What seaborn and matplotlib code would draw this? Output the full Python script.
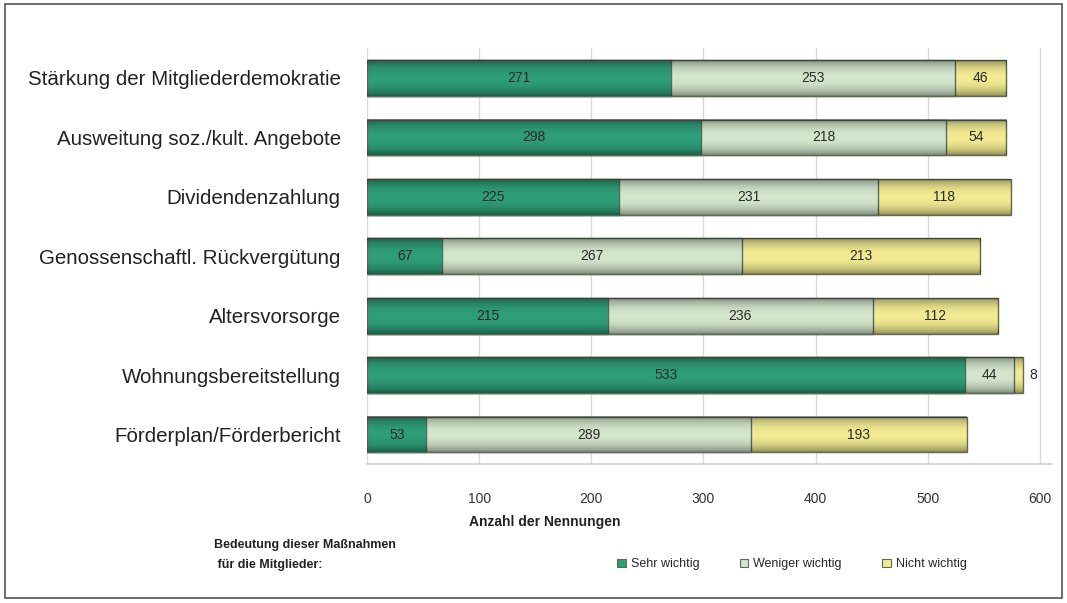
import matplotlib
matplotlib.use("Agg")
import matplotlib.pyplot as plt
import matplotlib.patches as mpatches
import numpy as np
import pandas as pd
import seaborn as sns

# Maßnahmen und Anzahl der Nennungen je Bedeutungsstufe
categories = [
    "Stärkung der Mitgliederdemokratie",
    "Ausweitung soz./kult. Angebote",
    "Dividendenzahlung",
    "Genossenschaftl. Rückvergütung",
    "Altersvorsorge",
    "Wohnungsbereitstellung",
    "Förderplan/Förderbericht",
]
sehr_wichtig = [271, 298, 225, 67, 215, 533, 53]
weniger_wichtig = [253, 218, 231, 267, 236, 44, 289]
nicht_wichtig = [46, 54, 118, 213, 112, 8, 193]

series_names = ["Sehr wichtig", "Weniger wichtig", "Nicht wichtig"]
x_ticks = [0, 100, 200, 300, 400, 500, 600]

colors = {
    "Sehr wichtig": "#2f9e78",
    "Weniger wichtig": "#d3e6cc",
    "Nicht wichtig": "#f1ea92",
}
edge = "#5d6b55"
bar_width = 0.6

sns.set_theme(style="white")
plt.rcParams["font.family"] = ["Liberation Sans", "DejaVu Sans"]

df = pd.DataFrame({
    "Maßnahme": categories,
    "Sehr wichtig": sehr_wichtig,
    "Weniger wichtig": weniger_wichtig,
    "Nicht wichtig": nicht_wichtig,
})
df["cum1"] = df["Sehr wichtig"]
df["cum2"] = df["cum1"] + df["Weniger wichtig"]
df["cum3"] = df["cum2"] + df["Nicht wichtig"]

fig = plt.figure(figsize=(10.67, 6.03), dpi=100)
ax = fig.add_axes([0.344, 0.23, 0.641, 0.69])

# stacked bars: draw cumulative totals from the back to the front
for col, name in [("cum3", "Nicht wichtig"), ("cum2", "Weniger wichtig"), ("cum1", "Sehr wichtig")]:
    sns.barplot(data=df, y="Maßnahme", x=col, orient="h", color=colors[name],
                width=bar_width, edgecolor=edge, linewidth=1.0, saturation=1, ax=ax, zorder=3)

# cylinder-like shading: darker towards the top and bottom edge of each bar
t = np.linspace(0, 1, 64)
alpha = 0.38 * np.abs(2 * t - 1) ** 2.2
shade = np.zeros((64, 2, 4))
shade[..., 3] = alpha[:, None]
for i, total in enumerate(df["cum3"]):
    ax.imshow(shade, extent=(0, total, i + bar_width / 2, i - bar_width / 2),
              aspect="auto", interpolation="bilinear", zorder=4)

# value labels centred in each segment
for i in range(len(categories)):
    segs = [(0, sehr_wichtig[i]), (sehr_wichtig[i], weniger_wichtig[i]),
            (sehr_wichtig[i] + weniger_wichtig[i], nicht_wichtig[i])]
    for left, val in segs:
        if val >= 20:
            ax.text(left + val / 2, i, str(val), ha="center", va="center",
                    fontsize=10, color="#2a2a2a", zorder=5)
        else:
            ax.text(left + val + 6, i, str(val), ha="left", va="center",
                    fontsize=10, color="#2a2a2a", zorder=5)

ax.set_xlim(0, 610)
ax.set_ylim(6.5, -0.5)
ax.set_xticks(x_ticks)
ax.set_xticklabels([str(t) for t in x_ticks], fontsize=10, color="#333333")
ax.tick_params(axis="x", length=0, pad=20)
ax.tick_params(axis="y", length=0, pad=19, labelsize=14.8, labelcolor="#222222")
ax.set_xlabel("")
ax.set_ylabel("")
ax.xaxis.grid(True, color="#d9d9d9", linewidth=1, zorder=0)
ax.set_axisbelow(True)
for side in ["top", "right", "left"]:
    ax.spines[side].set_visible(False)
ax.spines["bottom"].set_color("#d0d0d0")

fig.text(0.44, 0.135, "Anzahl der Nennungen", fontsize=10, fontweight="bold",
         ha="left", va="center", color="#222222")

# legend
fig.text(0.201, 0.08, "Bedeutung dieser Maßnahmen\n für die Mitglieder:", fontsize=9,
         fontweight="bold", ha="left", va="center", color="#222222", linespacing=1.9)
handles = [mpatches.Patch(facecolor=colors[n], edgecolor=edge, linewidth=0.8, label=n)
           for n in series_names]
fig.legend(handles=handles, loc="center left", bbox_to_anchor=(0.568, 0.064), ncol=3,
           frameon=False, fontsize=9, handlelength=0.7, handleheight=0.7,
           handletextpad=0.4, columnspacing=3.2)

# outer frame
fig.patches.append(mpatches.Rectangle((0.005, 0.008), 0.99, 0.985, transform=fig.transFigure,
                                      fill=False, edgecolor="#555555", linewidth=1.2))

fig.savefig("out.png", dpi=100)
